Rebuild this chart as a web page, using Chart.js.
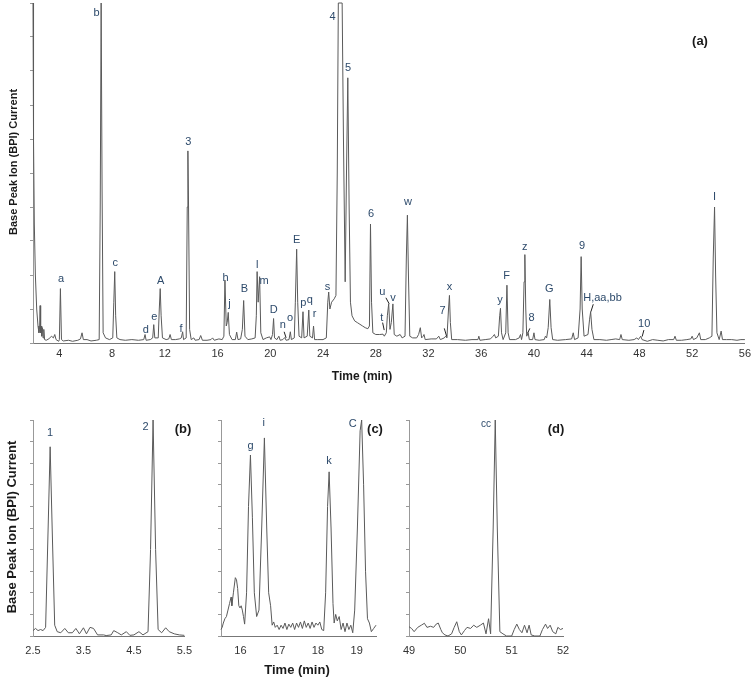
<!DOCTYPE html>
<html>
<head>
<meta charset="utf-8">
<script src="https://cdn.jsdelivr.net/npm/chart.js@4.4.0/dist/chart.umd.min.js"></script>
<style>
  body { margin: 0; background: #fff; }
  #wrap { position: relative; width: 755px; height: 681px; font-family: Arial, "Liberation Sans", sans-serif; }
  .panel { position: absolute; }
  .txt { position: absolute; transform: translate(-50%, -50%); white-space: nowrap; font-weight: bold; color: #1a1a1a; }
  .rot { transform: translate(-50%, -50%) rotate(-90deg); }
</style>
</head>
<body>
<div id="wrap">
  <div class="panel" style="left:0;top:0"><canvas id="chartA" width="755" height="380"></canvas></div>
  <div class="panel" style="left:0;top:400px"><canvas id="chartB" width="200" height="281"></canvas></div>
  <div class="panel" style="left:200px;top:400px"><canvas id="chartC" width="190" height="281"></canvas></div>
  <div class="panel" style="left:390px;top:400px"><canvas id="chartD" width="190" height="281"></canvas></div>

  <div class="txt rot" style="left:13px;top:162px;font-size:11px">Base Peak Ion (BPI) Current</div>
  <div class="txt" style="left:362px;top:376px;font-size:12px">Time (min)</div>
  <div class="txt" style="left:700px;top:40px;font-size:13px">(a)</div>

  <div class="txt rot" style="left:11px;top:527px;font-size:13px">Base Peak Ion (BPI) Current</div>
  <div class="txt" style="left:297px;top:669px;font-size:13px">Time (min)</div>
  <div class="txt" style="left:183px;top:428px;font-size:13px">(b)</div>
  <div class="txt" style="left:375px;top:428px;font-size:13px">(c)</div>
  <div class="txt" style="left:556px;top:428px;font-size:13px">(d)</div>
</div>
<script>
  // retention time (min), relative BPI intensity (%)
  const traceA = [
    [2.0, 100], [2.04, 60], [2.1, 35], [2.18, 20], [2.28, 10], [2.38, 5], [2.45, 3], [2.5, 4], [2.54, 11], [2.58, 3],
    [2.62, 5], [2.66, 2], [2.72, 4.5], [2.76, 1.5], [2.82, 4], [2.88, 1], [3.0, 0.8], [3.2, 1.2], [3.4, 2], [3.55, 1.5],
    [3.65, 2.5], [3.75, 1], [3.95, 0.5], [4.0, 1], [4.08, 16], [4.16, 1], [4.3, 0.6], [4.7, 0.8], [5.0, 0.5], [5.4, 0.8],
    [5.6, 1.2], [5.72, 3], [5.82, 1], [6.1, 1], [6.4, 0.6], [6.8, 0.8], [7.02, 1], [7.1, 40], [7.17, 100], [7.24, 45],
    [7.32, 3], [7.5, 1.5], [7.8, 1], [8.05, 1.5], [8.13, 12], [8.2, 21], [8.27, 8], [8.36, 1.5], [8.6, 1], [9.0, 0.8],
    [9.5, 1], [10.0, 0.8], [10.4, 1], [10.5, 2.5], [10.58, 0.8], [10.9, 1], [11.08, 1.5], [11.16, 5.4], [11.24, 1.5], [11.5, 1.5],
    [11.58, 10], [11.65, 16], [11.72, 8], [11.82, 1.5], [12.1, 1], [12.3, 1.2], [12.4, 2.5], [12.5, 1], [12.8, 1], [13.1, 1.2],
    [13.25, 1.5], [13.35, 3.3], [13.42, 1], [13.62, 1.5], [13.7, 40], [13.75, 56.5], [13.8, 40], [13.88, 4], [14.0, 1], [14.2, 1.5],
    [14.3, 0.8], [14.6, 1], [14.72, 2.2], [14.85, 0.8], [15.2, 0.8], [15.5, 1], [15.62, 1.5], [15.75, 0.8], [16.1, 1.2], [16.35, 1],
    [16.48, 2], [16.56, 18.5], [16.66, 5], [16.73, 6], [16.81, 9], [16.9, 2.5], [17.1, 1], [17.35, 1], [17.45, 3.2], [17.55, 1],
    [17.75, 1.2], [17.88, 4], [17.98, 12.5], [18.08, 2], [18.3, 1], [18.6, 1.2], [18.85, 1.5], [18.94, 8], [19.0, 21], [19.08, 12],
    [19.19, 19.5], [19.28, 3], [19.45, 1], [19.7, 1.5], [19.95, 1.8], [20.05, 1], [20.17, 2.5], [20.25, 7.2], [20.32, 1.5], [20.5, 1],
    [20.65, 2], [20.75, 0.8], [20.95, 1], [21.1, 1.6], [21.2, 0.8], [21.42, 1], [21.52, 3.3], [21.6, 1], [21.82, 1.5], [21.9, 12],
    [22.0, 27.6], [22.08, 12], [22.18, 2], [22.38, 1.5], [22.48, 9.2], [22.56, 1.5], [22.8, 2], [22.92, 9.7], [23.0, 2], [23.2, 1.5],
    [23.28, 5], [23.36, 1], [23.6, 1], [24.0, 1], [24.25, 1.5], [24.36, 12], [24.43, 15], [24.52, 10], [24.65, 12], [24.85, 13],
    [24.98, 14], [25.08, 50], [25.16, 100], [25.45, 100], [25.55, 60], [25.68, 18], [25.78, 50], [25.88, 78], [25.98, 40], [26.08, 12],
    [26.2, 8], [26.4, 6.5], [26.6, 6], [26.8, 5.5], [27.0, 5], [27.2, 4.5], [27.4, 4.2], [27.52, 5], [27.6, 35], [27.68, 12],
    [27.78, 3], [28.0, 2.5], [28.3, 2.5], [28.55, 2.6], [28.65, 2], [28.8, 3], [28.88, 8], [28.98, 11.5], [29.08, 4], [29.18, 6],
    [29.3, 11.5], [29.4, 2.5], [29.6, 2], [29.85, 2.5], [30.0, 1.5], [30.22, 2], [30.32, 25], [30.4, 37.6], [30.48, 20], [30.58, 2],
    [30.8, 1.5], [31.1, 1.5], [31.25, 2.5], [31.38, 4.5], [31.48, 1.5], [31.6, 2], [31.66, 2.5], [31.75, 1], [32.2, 1.2], [32.6, 1.2],
    [32.78, 2], [32.9, 1], [33.2, 1.5], [33.3, 2], [33.4, 1.5], [33.52, 10], [33.59, 14], [33.66, 6], [33.76, 1], [34.2, 1],
    [34.8, 0.8], [35.3, 1], [35.75, 1], [35.82, 2], [35.9, 0.8], [36.3, 1], [36.7, 1.2], [36.9, 2], [37.0, 2.5], [37.1, 1.5],
    [37.3, 2], [37.4, 8], [37.46, 10.2], [37.54, 3], [37.66, 1], [37.86, 3], [37.95, 17], [38.04, 3], [38.15, 1], [38.6, 1],
    [38.88, 1.5], [38.98, 2.5], [39.06, 1], [39.16, 3], [39.25, 18], [39.31, 26], [39.38, 10], [39.45, 2], [39.56, 3], [39.65, 1],
    [39.9, 1], [40.0, 3], [40.08, 1], [40.4, 0.8], [40.78, 1], [40.87, 2], [40.96, 1.5], [41.08, 4.5], [41.2, 12.8], [41.3, 4.5],
    [41.42, 1], [41.8, 0.8], [42.4, 1], [42.86, 1.2], [42.98, 3], [43.08, 1], [43.35, 1.5], [43.5, 10], [43.58, 25.4], [43.66, 10],
    [43.8, 2], [44.1, 2.5], [44.22, 7], [44.3, 9.2], [44.4, 4], [44.55, 1], [45.0, 1], [45.5, 0.8], [45.85, 1], [46.2, 1.2],
    [46.5, 1], [46.6, 2.5], [46.7, 1], [47.2, 0.8], [47.6, 1], [47.8, 1.5], [47.92, 1], [48.1, 2], [48.2, 1], [48.6, 0.5],
    [49.0, 1], [49.4, 0.8], [49.8, 0.6], [50.2, 1], [50.6, 1], [50.7, 2], [50.8, 0.8], [51.2, 0.8], [51.6, 1], [51.9, 1.2],
    [52.0, 2], [52.1, 1], [52.35, 1.5], [52.55, 3], [52.65, 1], [53.0, 1], [53.3, 1.5], [53.5, 2], [53.6, 25], [53.7, 40],
    [53.78, 20], [53.88, 3], [54.05, 1], [54.2, 3.5], [54.3, 1], [54.6, 1], [55.0, 1], [55.4, 0.8], [55.7, 1], [56.0, 1]
  ];
  const traceB = [
    [2.5, 2.5], [2.55, 3.5], [2.6, 2.5], [2.65, 3], [2.7, 2.5], [2.75, 4], [2.8, 50], [2.84, 87.6], [2.88, 50], [2.93, 5],
    [2.98, 2], [3.05, 1.5], [3.13, 3.5], [3.2, 1.5], [3.28, 1.5], [3.35, 3.5], [3.42, 1], [3.5, 3.8], [3.56, 1], [3.63, 4],
    [3.7, 3.5], [3.78, 0.5], [3.9, 0.5], [3.95, 0.2], [4.05, 0.5], [4.1, 2.5], [4.18, 1.5], [4.25, 0.5], [4.35, 2], [4.42, 0.3],
    [4.5, 0.5], [4.6, 2], [4.68, 0.5], [4.78, 2], [4.83, 40], [4.88, 100], [4.93, 40], [4.98, 3], [5.05, 1.5], [5.13, 3.8],
    [5.2, 2], [5.3, 1], [5.4, 0.5], [5.5, 0.3]
  ];
  const traceC = [
    [15.5, 3], [15.53, 4], [15.56, 6], [15.6, 8], [15.64, 9], [15.68, 12], [15.72, 15], [15.76, 18], [15.78, 14], [15.82, 20],
    [15.87, 27], [15.9, 26], [15.93, 22], [15.96, 14], [15.99, 13], [16.02, 14], [16.05, 12], [16.08, 9], [16.11, 5.5], [16.16, 20],
    [16.21, 60], [16.26, 83.8], [16.31, 55], [16.36, 20], [16.42, 9], [16.48, 12], [16.55, 50], [16.62, 91.7], [16.68, 50], [16.73, 20],
    [16.78, 14], [16.82, 5], [16.86, 6.5], [16.9, 4], [16.95, 5], [17.0, 3], [17.05, 5], [17.1, 3.5], [17.15, 6], [17.2, 3],
    [17.25, 5.5], [17.3, 4], [17.35, 6], [17.4, 3], [17.45, 6], [17.5, 4], [17.55, 6.5], [17.6, 3.5], [17.65, 7], [17.7, 4],
    [17.75, 6], [17.8, 3.5], [17.85, 6.5], [17.9, 4], [17.95, 6], [18.0, 5], [18.05, 6.5], [18.1, 3], [18.15, 2.5], [18.2, 20],
    [18.25, 60], [18.29, 76], [18.34, 50], [18.39, 15], [18.42, 6], [18.46, 10], [18.5, 7], [18.55, 9], [18.6, 3], [18.65, 6],
    [18.7, 2], [18.75, 6], [18.8, 3], [18.85, 5], [18.9, 1.5], [18.95, 12], [19.02, 50], [19.09, 95], [19.13, 100], [19.18, 70],
    [19.23, 30], [19.28, 8], [19.33, 6], [19.38, 2], [19.44, 3.5], [19.5, 5]
  ];
  const traceD = [
    [49.0, 4.3], [49.05, 3.5], [49.1, 2], [49.17, 4], [49.24, 5], [49.3, 5.9], [49.35, 4], [49.42, 4.5], [49.48, 4], [49.53, 5.5],
    [49.57, 6], [49.62, 3], [49.65, 1.5], [49.7, 0.5], [49.76, 0], [49.83, 1], [49.88, 4], [49.93, 6.6], [49.98, 2], [50.02, 0.5],
    [50.08, 2.5], [50.13, 4], [50.2, 3.5], [50.26, 5], [50.32, 4], [50.39, 5], [50.45, 6], [50.5, 1], [50.55, 8], [50.59, 1],
    [50.64, 50], [50.68, 100], [50.72, 50], [50.77, 2], [50.83, 1], [50.9, 0], [51.0, 0], [51.05, 3], [51.1, 5.5], [51.15, 3],
    [51.2, 1.5], [51.25, 5], [51.3, 1.5], [51.34, 5], [51.38, 0.5], [51.45, 0], [51.55, 0], [51.6, 3], [51.66, 5.5], [51.7, 3.5],
    [51.75, 5], [51.8, 2], [51.86, 1], [51.9, 4], [51.95, 3], [52.0, 3.5]
  ];

  // peak labels: name, retention time, label height (%)
  const namesA = ['a', 'b', 'c', 'd', 'e', 'A', 'f', '3', 'h', 'j', 'B', 'l', 'm', 'D', 'n', 'o', 'E', 'p', 'q', 'r',
                  's', '4', '5', '6', 't', 'u', 'v', 'w', '7', 'x', 'y', 'F', 'z', '8', 'G', '9', 'H,aa,bb', '10', 'I'];
  const timesA = [4.12, 6.83, 8.24, 10.55, 11.2, 11.69, 13.22, 13.78, 16.6, 16.9, 18.03, 19.0, 19.52, 20.26, 20.94, 21.5, 22.0, 22.5, 23.0, 23.36,
                  24.33, 24.73, 25.9, 27.65, 28.45, 28.5, 29.3, 30.44, 33.07, 33.6, 37.42, 37.93, 39.3, 39.82, 41.16, 43.64, 45.2, 48.36, 53.7];
  const heightsA = [18.8, 97, 23.5, 3.8, 7.6, 18.2, 4.2, 59, 19, 11.5, 16, 23, 18.2, 9.7, 5.3, 7.4, 30.3, 11.8, 12.6, 8.5,
                    16.5, 96, 81, 38, 7.3, 15.1, 13.3, 41.5, 9.4, 16.5, 12.6, 19.7, 28.2, 7.3, 15.8, 28.5, 13.3, 5.6, 43];
  const leadersA = [
    [21.05, 3.3, 21.2, 1.5], [28.52, 6, 28.64, 3.8], [28.77, 13.3, 29.02, 11.5], [33.2, 4.3, 33.38, 1.9],
    [39.69, 4.3, 39.52, 2.9], [48.34, 3.8, 48.21, 1.9], [44.5, 11.4, 44.32, 9.2]
  ];
  const namesB = ['1', '2'];
  const timesB = [2.84, 4.73];
  const heightsB = [94, 97];
  const namesC = ['g', 'i', 'k', 'C'];
  const timesC = [16.26, 16.6, 18.29, 18.9];
  const heightsC = [88, 98.6, 81, 98];
  const namesD = ['cc'];
  const timesD = [50.5];
  const heightsD = [98];

  const ticksA = [4, 8, 12, 16, 20, 24, 28, 32, 36, 40, 44, 48, 52, 56];
  const ticksB = [2.5, 3.5, 4.5, 5.5];
  const ticksC = [16, 17, 18, 19];
  const ticksD = [49, 50, 51, 52];

  function labelPlugin(names, times, heights, leaders, fontSize) {
    return {
      id: 'peakLabels',
      afterDatasetsDraw(chart) {
        const ctx = chart.ctx;
        const x = chart.scales.x, y = chart.scales.y;
        ctx.save();
        ctx.font = fontSize + 'px Arial';
        ctx.fillStyle = '#2d4a6b';
        ctx.textAlign = 'center';
        ctx.textBaseline = 'middle';
        names.forEach((n, i) => {
          ctx.fillText(n, x.getPixelForValue(times[i]), y.getPixelForValue(heights[i]));
        });
        ctx.strokeStyle = '#222';
        ctx.lineWidth = 1;
        leaders.forEach(l => {
          ctx.beginPath();
          ctx.moveTo(x.getPixelForValue(l[0]), y.getPixelForValue(l[1]));
          ctx.lineTo(x.getPixelForValue(l[2]), y.getPixelForValue(l[3]));
          ctx.stroke();
        });
        ctx.restore();
      }
    };
  }

  function makePanel(id, trace, xMin, xMax, xTicks, box, plugin) {
    return new Chart(document.getElementById(id), {
      type: 'line',
      data: {
        datasets: [{
          data: trace.map(p => ({ x: p[0], y: p[1] })),
          borderColor: '#5a5a5a',
          borderWidth: 1,
          pointRadius: 0,
          tension: 0,
          clip: 3
        }]
      },
      options: {
        responsive: false,
        animation: false,
        layout: { padding: { top: box.top, right: box.right, left: 0, bottom: 0 } },
        plugins: { legend: { display: false }, tooltip: { enabled: false } },
        scales: {
          x: {
            type: 'linear',
            min: xMin,
            max: xMax,
            afterBuildTicks: s => { s.ticks = xTicks.map(v => ({ value: v })); },
            afterFit: s => { s.height = box.xHeight; },
            grid: { display: false, drawTicks: false },
            border: { color: '#777', dash: [2, 2] },
            ticks: { color: '#333', font: { size: 11, family: 'Arial' }, padding: box.pad, maxRotation: 0, autoSkip: false }
          },
          y: {
            min: 0,
            max: 100,
            afterFit: s => { s.width = box.yWidth; },
            ticks: { display: false, stepSize: 10 },
            grid: { drawOnChartArea: false, tickLength: 3, color: '#999' },
            border: { color: '#999' }
          }
        }
      },
      plugins: [plugin]
    });
  }

  makePanel('chartA', traceA, 2, 56, ticksA, { top: 3, right: 10, xHeight: 37, yWidth: 33, pad: 4 },
    labelPlugin(namesA, timesA, heightsA, leadersA, 11));
  makePanel('chartB', traceB, 2.5, 5.5, ticksB, { top: 20, right: 12, xHeight: 45, yWidth: 33, pad: 8 },
    labelPlugin(namesB, timesB, heightsB, [], 11));
  makePanel('chartC', traceC, 15.5, 19.5, ticksC, { top: 20, right: 14, xHeight: 45, yWidth: 21, pad: 8 },
    labelPlugin(namesC, timesC, heightsC, [], 11));
  makePanel('chartD', traceD, 49, 52, ticksD, { top: 20, right: 17, xHeight: 45, yWidth: 19, pad: 8 },
    labelPlugin(namesD, timesD, heightsD, [], 10));
</script>
</body>
</html>
